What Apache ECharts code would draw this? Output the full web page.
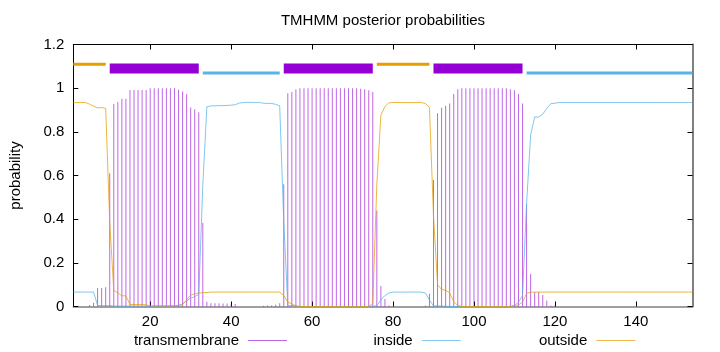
<!DOCTYPE html>
<html><head><meta charset="utf-8">
<script src="https://cdn.jsdelivr.net/npm/echarts@6/dist/echarts.min.js"></script>
<style>html,body{margin:0;padding:0;background:#fff}#c{width:720px;height:352px}</style>
</head><body><div id="c"></div>
<script>
// residue positions are 1..154 (index + 1)
const transmembrane = [
  0, 0, 0, 0, 0.007, 0.017, 0.085, 0.085, 0.088, 0.61,
  0.927, 0.937, 0.951, 0.951, 0.992, 0.992, 0.992, 0.992, 0.992, 1,
  1, 1, 1, 1, 1, 1, 0.993, 0.985, 0.973, 0.911,
  0.903, 0.89, 0.384, 0.022, 0.015, 0.015, 0.015, 0.014, 0.014, 0.013,
  0.012, 0, 0, 0, 0, 0, 0, 0.004, 0.005, 0.005,
  0.008, 0.015, 0.56, 0.977, 0.983, 0.995, 1, 1, 1, 1,
  1, 1, 1, 1, 1, 1, 1, 1, 1, 1,
  1, 0.997, 0.995, 0.99, 0.983, 0.44, 0.094, 0.034, 0.005, 0,
  0, 0, 0, 0, 0, 0, 0, 0.005, 0.058, 0.58,
  0.885, 0.91, 0.92, 0.93, 0.973, 0.995, 1, 1, 1, 1,
  1, 1, 1, 1, 1, 1, 1, 1, 0.995, 0.99,
  0.973, 0.93, 0.47, 0.149, 0.066, 0.066, 0.053, 0.027, 0.005, 0.003,
  0, 0, 0, 0, 0, 0, 0, 0, 0, 0,
  0, 0, 0, 0, 0, 0, 0, 0, 0, 0,
  0, 0, 0, 0, 0, 0, 0, 0, 0, 0,
  0, 0, 0, 0
];
const inside = [
  0.066, 0.066, 0.066, 0.066, 0.066, 0.066, 0.005, 0.004, 0.004, 0.005,
  0.002, 0.002, 0.002, 0.002, 0.002, 0.002, 0.002, 0.002, 0.002, 0.002,
  0.002, 0.002, 0.002, 0.002, 0.003, 0.004, 0.006, 0.012, 0.025, 0.038,
  0.045, 0.055, 0.554, 0.915, 0.919, 0.919, 0.92, 0.92, 0.921, 0.922,
  0.924, 0.932, 0.934, 0.935, 0.935, 0.934, 0.934, 0.931, 0.93, 0.93,
  0.926, 0.919, 0.39, 0.003, 0.005, 0.002, 0, 0, 0, 0,
  0, 0, 0, 0, 0, 0, 0, 0, 0, 0,
  0, 0, 0, 0, 0.002, 0.003, 0.03, 0.05, 0.062, 0.066,
  0.066, 0.066, 0.066, 0.066, 0.066, 0.066, 0.066, 0.062, 0.03, 0.003,
  0.003, 0.002, 0.001, 0, 0, 0, 0, 0, 0, 0,
  0, 0, 0, 0, 0, 0, 0, 0, 0, 0.005,
  0.02, 0.05, 0.47, 0.785, 0.868, 0.868, 0.881, 0.907, 0.929, 0.931,
  0.934, 0.934, 0.934, 0.934, 0.934, 0.934, 0.934, 0.934, 0.934, 0.934,
  0.934, 0.934, 0.934, 0.934, 0.934, 0.934, 0.934, 0.934, 0.934, 0.934,
  0.934, 0.934, 0.934, 0.934, 0.934, 0.934, 0.934, 0.934, 0.934, 0.934,
  0.934, 0.934, 0.934, 0.934
];
const outside = [
  0.934, 0.934, 0.934, 0.934, 0.927, 0.917, 0.91, 0.911, 0.908, 0.385,
  0.073, 0.063, 0.049, 0.049, 0.009, 0.009, 0.009, 0.009, 0.008, 0.003,
  0.003, 0.003, 0.003, 0.003, 0.003, 0.003, 0.004, 0.008, 0.03, 0.053,
  0.058, 0.062, 0.063, 0.064, 0.066, 0.066, 0.066, 0.066, 0.066, 0.066,
  0.066, 0.066, 0.066, 0.066, 0.066, 0.066, 0.066, 0.066, 0.066, 0.066,
  0.066, 0.066, 0.05, 0.02, 0.012, 0.003, 0, 0, 0, 0,
  0, 0, 0, 0, 0, 0, 0, 0, 0, 0,
  0, 0, 0, 0, 0.015, 0.56, 0.876, 0.916, 0.933, 0.934,
  0.934, 0.934, 0.934, 0.934, 0.934, 0.934, 0.934, 0.93, 0.912, 0.417,
  0.1, 0.078, 0.075, 0.062, 0.022, 0.005, 0, 0, 0, 0,
  0, 0, 0, 0, 0, 0, 0, 0, 0, 0.005,
  0.007, 0.02, 0.06, 0.066, 0.066, 0.066, 0.066, 0.066, 0.066, 0.066,
  0.066, 0.066, 0.066, 0.066, 0.066, 0.066, 0.066, 0.066, 0.066, 0.066,
  0.066, 0.066, 0.066, 0.066, 0.066, 0.066, 0.066, 0.066, 0.066, 0.066,
  0.066, 0.066, 0.066, 0.066, 0.066, 0.066, 0.066, 0.066, 0.066, 0.066,
  0.066, 0.066, 0.066, 0.066
];
// predicted topology segments (top bars)
const topoStart = [1, 10, 33, 53, 76, 90, 113];
const topoEnd   = [9, 32, 52, 75, 89, 112, 154];
const topoType  = ['outside', 'TMhelix', 'inside', 'TMhelix', 'outside', 'TMhelix', 'inside'];
const topoLevel = { outside: 1.11, TMhelix: 1.09, inside: 1.07 };
const xTicks = [20, 40, 60, 80, 100, 120, 140];
const seriesNames = ['transmembrane', 'inside', 'outside'];

const C = { TMhelix: '#9400d3', inside: '#56b4e9', outside: '#e69f00' };
const W = { TMhelix: 10, inside: 3, outside: 3 };
const FONT = "'Liberation Sans', Arial, sans-serif";

const toXY = arr => arr.map((v, i) => [i + 1, v]);

const chart = echarts.init(document.getElementById('c'), null, { renderer: 'canvas' });

const axisTickStyle = { lineStyle: { color: '#000', width: 1 } };

function legendFor(name, right, color, opacity) {
  return {
    data: [{ name: name, itemStyle: { color: color, opacity: opacity } }],
    right: right, top: 333, align: 'right', orient: 'horizontal',
    icon: 'rect', itemWidth: 39, itemHeight: 1, padding: 0,
    selectedMode: false,
    textStyle: { fontSize: 15, fontFamily: FONT, color: '#000', padding: [0, 4, 0, 0] }
  };
}

chart.setOption({
  animation: false,
  backgroundColor: '#fff',
  title: {
    text: 'TMHMM posterior probabilities',
    left: 383, top: 13, textAlign: 'center', padding: 0,
    textStyle: { fontSize: 15, fontWeight: 'normal', fontFamily: FONT, color: '#000' }
  },
  grid: { left: 73.3, right: 27.5, top: 44.5, bottom: 45.5, containLabel: false },
  legend: [
    legendFor(seriesNames[0], 433, C.TMhelix, 0.6),
    legendFor(seriesNames[1], 259.3, C.inside, 0.7),
    legendFor(seriesNames[2], 84.7, C.outside, 0.7)
  ],
  xAxis: [
    {
      type: 'value', min: 1, max: 154, position: 'bottom',
      axisLine: { show: true, onZero: false, lineStyle: { color: '#808080', width: 1.5 } },
      axisTick: { show: true, inside: true, length: 5, customValues: xTicks, lineStyle: { color: '#000' } },
      axisLabel: { show: true, customValues: xTicks, margin: 8, fontSize: 15, fontFamily: FONT, color: '#000' },
      splitLine: { show: false }
    },
    {
      type: 'value', min: 1, max: 154, position: 'top',
      axisLine: { show: true, onZero: false, lineStyle: { color: '#000', width: 1 } },
      axisTick: { show: true, inside: true, length: 5, customValues: xTicks, lineStyle: { color: '#000' } },
      axisLabel: { show: false },
      splitLine: { show: false }
    }
  ],
  yAxis: [
    {
      type: 'value', min: 0, max: 1.2, interval: 0.2, position: 'left',
      name: 'probability', nameLocation: 'middle', nameGap: 50, nameRotate: 90,
      nameTextStyle: { fontSize: 15, fontFamily: FONT, color: '#000' },
      axisLine: { show: true, onZero: false, lineStyle: { color: '#000', width: 1 } },
      axisTick: { show: true, inside: true, length: 5, lineStyle: { color: '#000' } },
      axisLabel: { margin: 9, fontSize: 15, fontFamily: FONT, color: '#000' },
      splitLine: { show: false }
    },
    {
      type: 'value', min: 0, max: 1.2, interval: 0.2, position: 'right',
      axisLine: { show: true, onZero: false, lineStyle: { color: '#808080', width: 2 } },
      axisTick: { show: true, inside: true, length: 5, lineStyle: { color: '#000' } },
      axisLabel: { show: false },
      splitLine: { show: false }
    }
  ],
  series: [
    {
      name: seriesNames[0], type: 'bar', xAxisIndex: 0, yAxisIndex: 0,
      data: toXY(transmembrane), barWidth: 1,
      itemStyle: { color: C.TMhelix, opacity: 0.6 },
      silent: true, z: 2
    },
    {
      name: seriesNames[1], type: 'line', xAxisIndex: 0, yAxisIndex: 0,
      data: toXY(inside), showSymbol: false, symbol: 'none',
      lineStyle: { color: C.inside, width: 1, opacity: 0.75 },
      itemStyle: { color: C.inside }, silent: true, z: 3
    },
    {
      name: seriesNames[2], type: 'line', xAxisIndex: 0, yAxisIndex: 0,
      data: toXY(outside), showSymbol: false, symbol: 'none',
      lineStyle: { color: C.outside, width: 1, opacity: 0.75 },
      itemStyle: { color: C.outside }, silent: true, z: 4
    },
    {
      name: 'topology', type: 'custom', xAxisIndex: 0, yAxisIndex: 0, silent: true, z: 5,
      data: topoStart.map((s, i) => [s, topoEnd[i], topoLevel[topoType[i]]]),
      encode: { x: [0, 1], y: 2 },
      renderItem: function (params, api) {
        const t = topoType[params.dataIndex];
        const a = api.coord([api.value(0), api.value(2)]);
        const b = api.coord([api.value(1), api.value(2)]);
        return {
          type: 'line',
          shape: { x1: a[0], y1: a[1], x2: b[0], y2: b[1] },
          style: { stroke: C[t], lineWidth: W[t], lineCap: 'butt' }
        };
      }
    }
  ]
});
</script>
</body></html>
